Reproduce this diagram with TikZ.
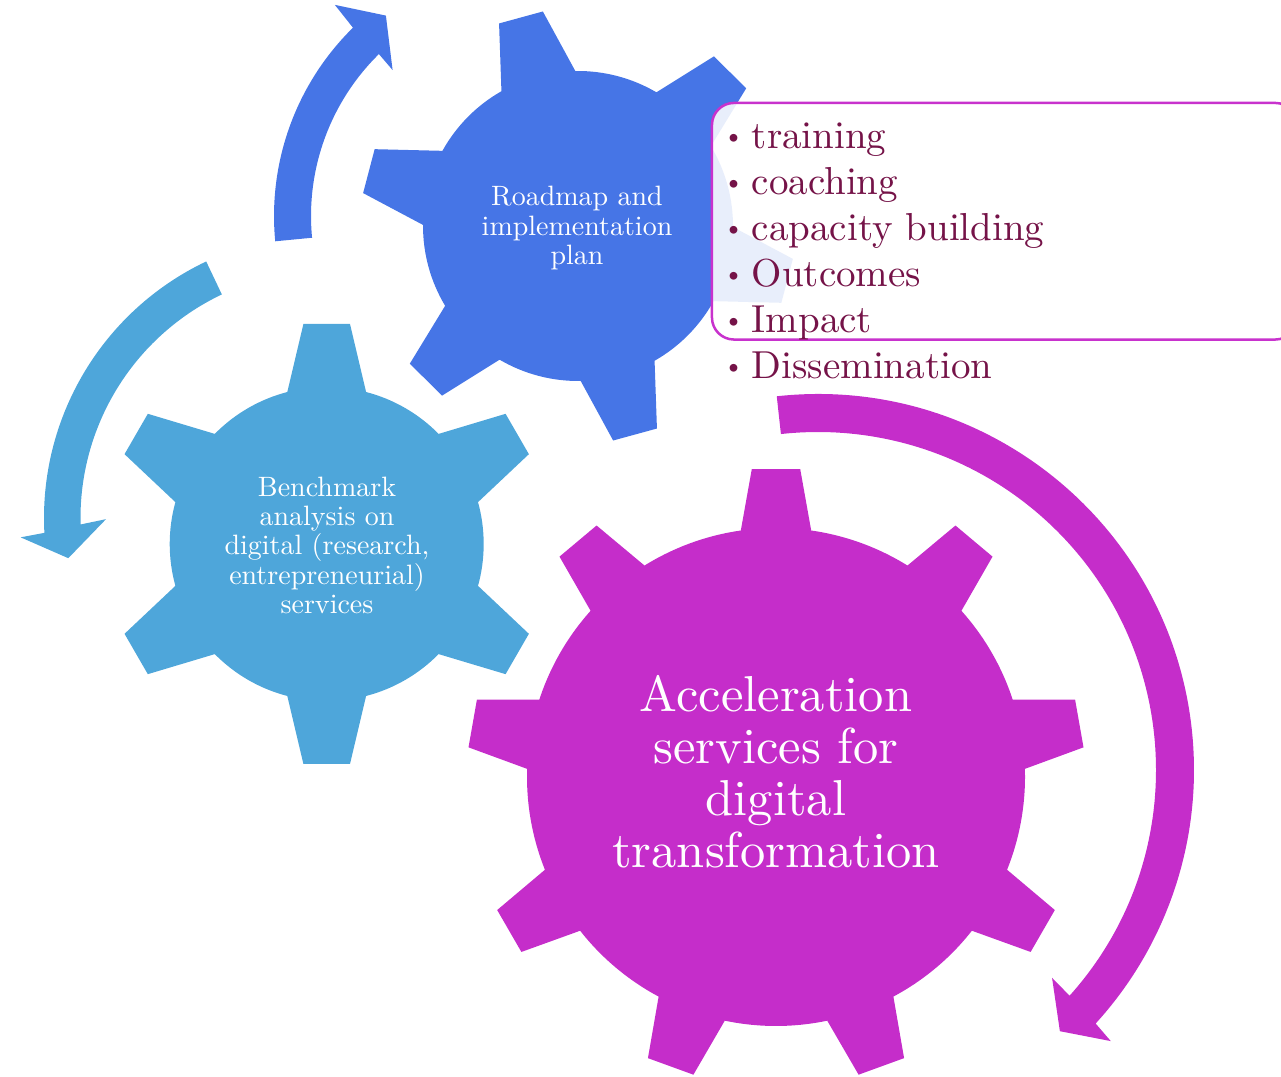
\documentclass[tikz,border=0pt]{standalone}
\usepackage{fontspec}
\setmainfont{lmroman10-regular.otf}
\definecolor{cBlue}{RGB}{70,117,230}
\definecolor{cLight}{RGB}{78,166,218}
\definecolor{cMag}{RGB}{197,45,202}
\definecolor{cText}{RGB}{117,19,72}
\definecolor{cBox}{RGB}{200,50,205}
\tikzset{
  gearblue/.style={fill=cBlue},
  gearlight/.style={fill=cLight},
  gearmag/.style={fill=cMag},
  geartext/.style={text=white, align=center, inner sep=0pt},
  smalltext/.style={geartext, font=\fontsize{28}{29.2}\selectfont},
  bigtext/.style={geartext, font=\fontsize{50.5}{52}\selectfont},
  listitem/.style={text=cText, anchor=base west, inner sep=0pt, font=\fontsize{39}{46}\selectfont},
  listbox/.style={draw=cBox, line width=2.5pt, rounded corners=22pt, fill=white, fill opacity=0.88, inner sep=0pt},
}
\newcommand{\lbul}{\llap{\makebox[36.8pt][c]{\raisebox{4pt}{\fontsize{27}{27}\selectfont\textbullet}}}}
% #1 centre, #2 teeth, #3 phase, #4 body radius, #5 tip radius, #6 tip half width, #7 base half width, #8 style
\newcommand{\drawgear}[8]{%
  \pgfmathsetmacro{\gAt}{atan(#6/#5)}%
  \pgfmathsetmacro{\gRt}{veclen(#5,#6)}%
  \pgfmathsetmacro{\gAb}{asin(#7/#4)}%
  \pgfmathsetmacro{\gSt}{360/#2}%
  \begin{scope}[shift={#1}]
    \fill[#8] ({#3-\gAb}:#4)
      \foreach \k in {1,...,#2} {
        -- ({#3+(\k-1)*\gSt-\gAt}:\gRt)
        -- ({#3+(\k-1)*\gSt+\gAt}:\gRt)
        -- ({#3+(\k-1)*\gSt+\gAb}:#4)
        arc[start angle={#3+(\k-1)*\gSt+\gAb}, end angle={#3+\k*\gSt-\gAb}, radius=#4]
      } -- cycle;
  \end{scope}}
\begin{document}
\begin{tikzpicture}[x=1pt,y=1pt]
\useasboundingbox (0,0) rectangle (1281,1076);

% gears
\drawgear{(326.7,532)}{6}{90}{157}{220}{23.3}{39.4}{gearlight}
\drawgear{(578,850)}{6}{105.3}{155}{216.2}{22.7}{38.3}{gearblue}
\drawgear{(776,299)}{9}{90}{249}{308}{24.2}{35.2}{gearmag}

% circular arrows
\begin{scope}[shift={(538,860)}]
  \fill[gearblue] (185.5:264) arc[start angle=185.5, end angle=134.5, radius=264]
    -- (133.9:293) -- (127.2:251.6) -- (134.9:206) -- (134.5:227)
    arc[start angle=134.5, end angle=185.5, radius=227] -- cycle;
\end{scope}
\begin{scope}[shift={(328,558)}]
  \fill[gearlight] (115.4:284) arc[start angle=115.4, end angle=183, radius=284]
    -- (183.6:308) -- (188.8:262.8) -- (180.3:222) -- (181.5:247.5)
    arc[start angle=181.5, end angle=115.4, radius=247.5] -- cycle;
\end{scope}
\begin{scope}[shift={(818,306)}]
  \fill[gearmag] (96.3:376) arc[start angle=96.3, end angle=-42.4, radius=376]
    -- (-42.8:399) -- (-47.2:356) -- (-41.6:313) -- (-41.9:338)
    arc[start angle=-41.9, end angle=96.3, radius=338] -- cycle;
\end{scope}

% gear labels
\node[smalltext] (roadmap) at (577,847.8) {Roadmap and\\implementation\\plan};
\node[smalltext] (bench) at (327,530.7) {Benchmark\\analysis on\\digital (research,\\entrepreneurial)\\services};
\node[bigtext] (accel) at (776,304.5) {Acceleration\\services for\\digital\\transformation};

% list box
\node[listbox, anchor=north west, minimum width=585.3pt, minimum height=236.6pt] (box) at (710.7,974.3) {};
\node[listitem] (li1) at (751.7,927) {\lbul training};
\node[listitem] (li2) at (751.7,881) {\lbul coaching};
\node[listitem] (li3) at (751.7,835) {\lbul capacity building};
\node[listitem] (li4) at (751.7,789) {\lbul Outcomes};
\node[listitem] (li5) at (751.7,743) {\lbul Impact};
\node[listitem] (li6) at (751.7,697) {\lbul Dissemination};
\end{tikzpicture}
\end{document}
